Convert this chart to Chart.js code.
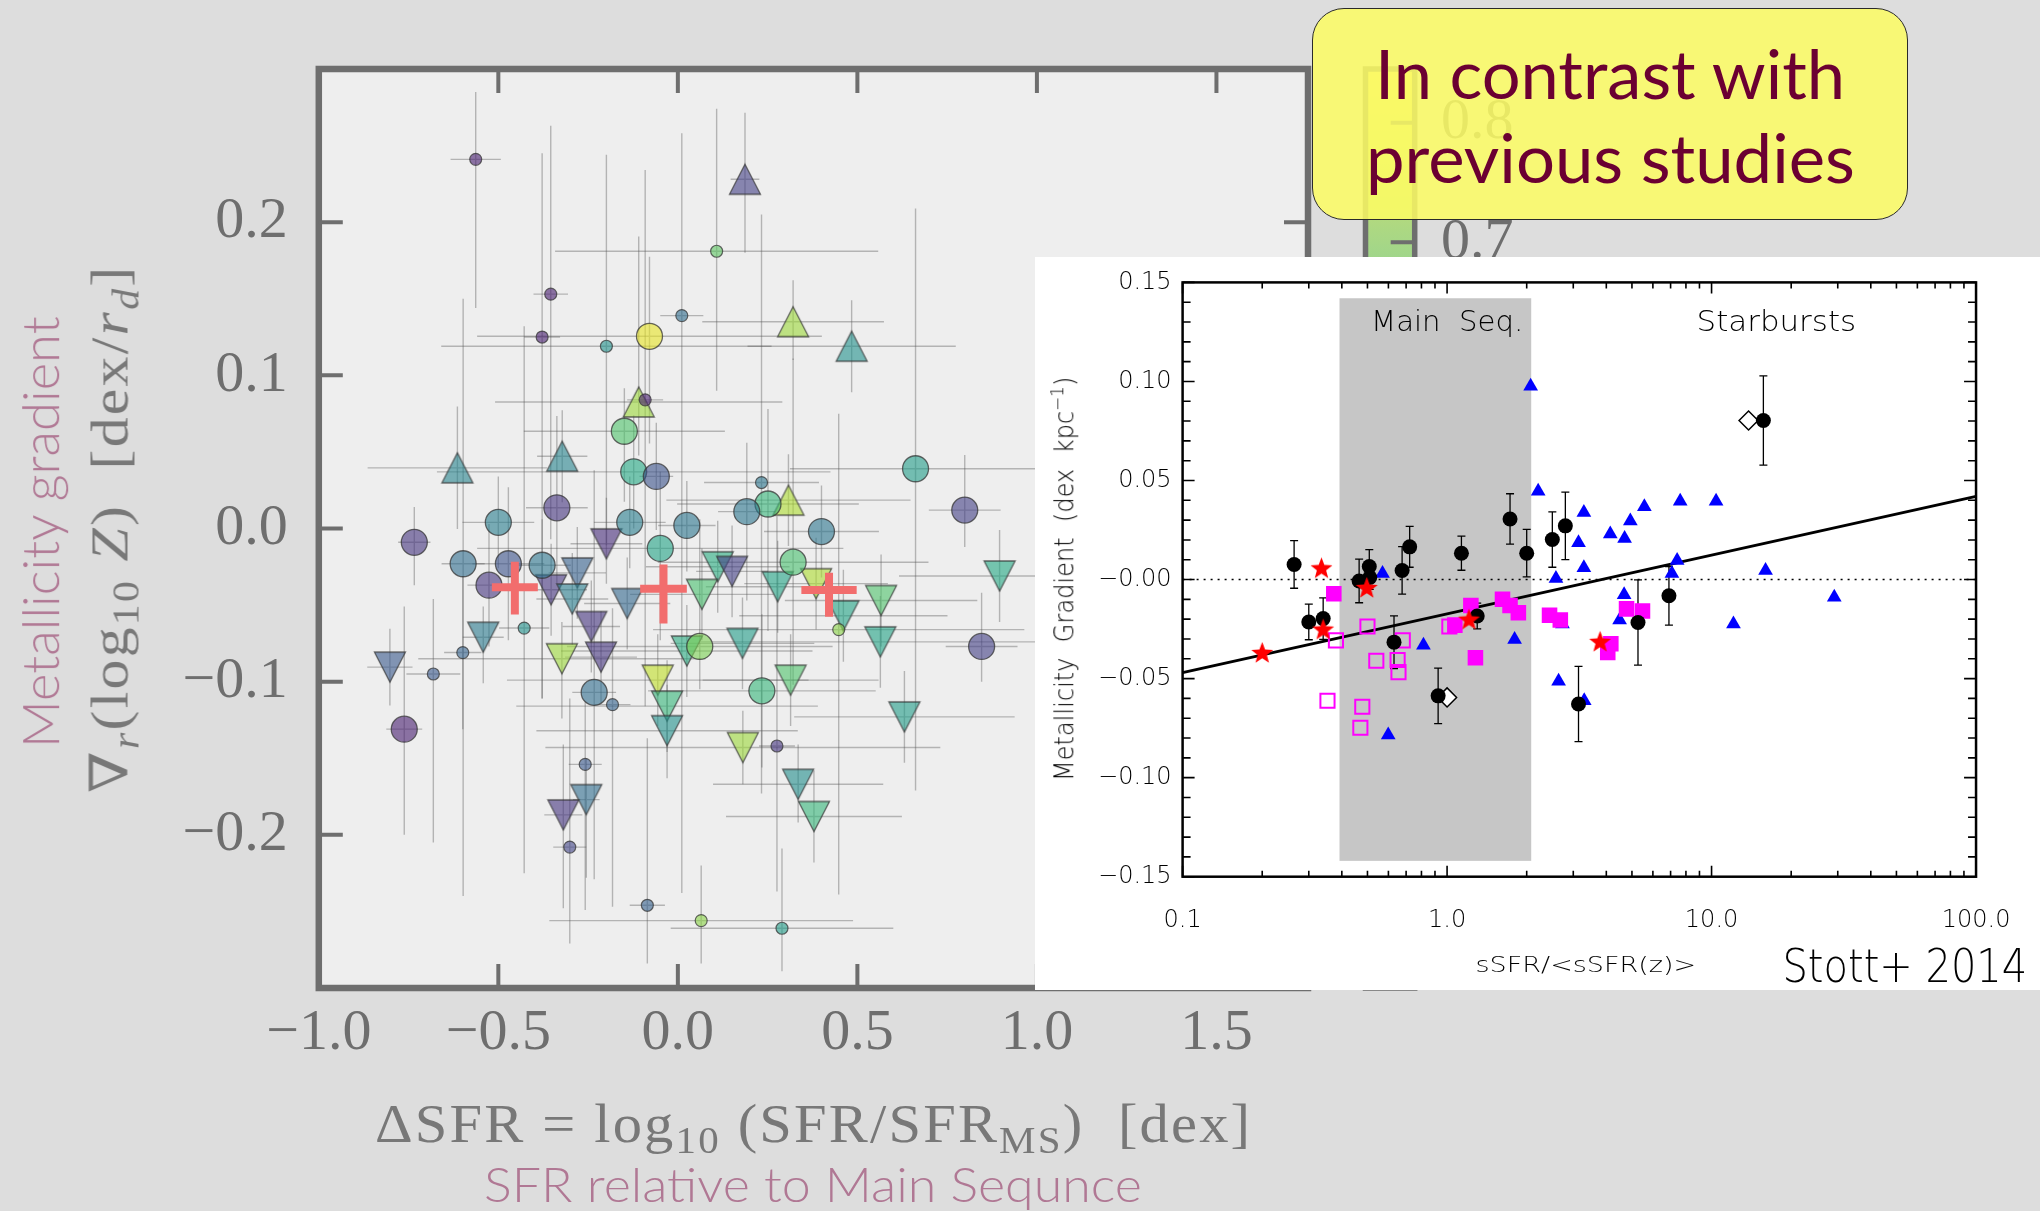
<!DOCTYPE html>
<html><head><meta charset="utf-8"><title>Metallicity gradient vs SFR offset</title>
<script src="https://cdn.jsdelivr.net/npm/chart.js@4.4.1/dist/chart.umd.min.js"></script>
<style>
html,body{margin:0;padding:0;background:#dddddd;}
body{position:relative;width:2040px;height:1211px;overflow:hidden;}
canvas{display:block;}
#mainCanvas{position:absolute;left:0;top:0;}
#insetBox{position:absolute;left:1035px;top:257px;width:1005px;height:733px;background:#ffffff;}
#insetCanvas{position:absolute;left:0;top:0;}
#callout{position:absolute;left:1312px;top:8px;width:596px;height:212px;box-sizing:border-box;border:1.5px solid #2a2a2a;border-radius:32px;background:rgba(253,253,100,0.86);}
.lbl{position:absolute;white-space:nowrap;line-height:1.2;transform-origin:50% 50%;}
.lbl sub{font-size:0.7em;vertical-align:-0.3em;line-height:0;}
.serif{font-family:"Liberation Serif","DejaVu Serif",serif;color:#787878;letter-spacing:2px;}
.lato{font-family:Lato,"Open Sans",sans-serif;}
.idl{font-family:"DejaVu Sans",sans-serif;font-weight:200;color:#000;}
</style></head>
<body>
<canvas id="mainCanvas" width="2040" height="1211"></canvas>
<div id="insetBox"><canvas id="insetCanvas" width="1005" height="733"></canvas></div>
<div id="callout"></div>

<span class="lbl lato" data-cx="39" data-cy="532" data-w="432" data-rot="-90" style="font-size:52px;font-weight:300;color:#b07894">Metallicity gradient</span>
<span class="lbl serif" data-cx="110" data-cy="529" data-w="529" data-rot="-90" style="font-size:53px">∇<sub><i>r</i></sub>(log<sub>10</sub> <i>Z</i>) &nbsp;[dex/<i>r</i><sub><i>d</i></sub>]</span>
<span class="lbl serif" data-cx="813" data-cy="1124" data-w="877" style="font-size:54px">ΔSFR = log<sub>10</sub> (SFR/SFR<sub>MS</sub>) &nbsp;[dex]</span>
<span class="lbl lato" data-cx="813" data-cy="1184" data-w="658" style="font-size:48px;font-weight:300;color:#b07894">SFR relative to Main Sequnce</span>

<span class="lbl idl" data-cx="1063" data-cy="579" data-w="404" data-rot="-90" style="font-size:26px">Metallicity&nbsp; Gradient&nbsp; (dex&nbsp; kpc<sup style="font-size:0.7em">−1</sup>)</span>
<span class="lbl idl" data-cx="1447" data-cy="322" data-w="152" style="font-size:28px">Main&nbsp; Seq.</span>
<span class="lbl idl" data-cx="1776" data-cy="322" data-w="160" style="font-size:28px">Starbursts</span>
<span class="lbl idl" data-cx="1586" data-cy="965" data-w="221" style="font-size:22px">sSFR/&lt;sSFR(z)&gt;</span>
<span class="lbl idl" data-cx="1905" data-cy="966" data-w="245" style="font-size:46px">Stott+ 2014</span>

<span class="lbl lato" data-cx="1610" data-cy="73" data-w="470" style="font-size:68px;color:#6b0032">In contrast with</span>
<span class="lbl lato" data-cx="1610" data-cy="157" data-w="489" style="font-size:68px;color:#6b0032">previous studies</span>

<script>
// ================= MAIN PANEL DATA =================
// x: ΔSFR [dex], y: metallicity gradient [dex/r_d], c: colour-bar value
const xTickVals = [-1.0, -0.5, 0.0, 0.5, 1.0, 1.5];
const xTickLabels = ['−1.0', '−0.5', '0.0', '0.5', '1.0', '1.5'];
const yTickVals = [-0.2, -0.1, 0.0, 0.1, 0.2];
const yTickLabels = ['−0.2', '−0.1', '0.0', '0.1', '0.2'];
const cbTickVals = [0.1, 0.2, 0.3, 0.4, 0.5, 0.6, 0.7, 0.8];
const cbTickLabels = ['0.1', '0.2', '0.3', '0.4', '0.5', '0.6', '0.7', '0.8'];

// small circles
const smX    = [-0.563,-0.354,-0.378,-0.199,0.011,-0.091,0.108,0.233,-0.428,-0.599,-0.681,-0.182,-0.258,-0.301,-0.085,0.448,0.276,0.065,0.290];
const smY    = [0.241,0.153,0.125,0.119,0.139,0.084,0.181,0.030,-0.065,-0.081,-0.095,-0.115,-0.154,-0.208,-0.246,-0.066,-0.142,-0.256,-0.261];
const smXerr = [0.07,0.048,0.05,0.46,0.06,0.05,0.45,0.16,0.07,0.052,0.075,0.05,0.046,0.046,0.049,0.517,0.05,0.423,0.31];
const smYup  = [0.044,0.11,0.12,0.125,0.119,0.15,0.093,0.175,0.197,0.05,0.049,0.063,0.041,0.097,0.109,0.141,0.15,0.036,0.052];
const smYdn  = [0.097,0.16,0.236,0.13,0.377,0.2,0.091,0.203,0.16,0.05,0.11,0.132,0.095,0.063,0.038,0.173,0.095,0.028,0.028];
const smC    = [0.14,0.14,0.14,0.46,0.35,0.14,0.65,0.37,0.46,0.32,0.29,0.32,0.29,0.23,0.31,0.71,0.19,0.71,0.50];

// large circles
const bgX    = [-0.079,-0.149,-0.123,-0.060,-0.337,-0.500,-0.134,0.662,0.251,0.192,0.799,0.400,0.025,-0.734,-0.598,-0.472,-0.378,-0.526,-0.049,-0.762,-0.233,0.321,0.846,0.061,0.234];
const bgY    = [0.1255,0.0635,0.037,0.034,0.0135,0.004,0.004,0.039,0.016,0.011,0.012,-0.002,0.002,-0.009,-0.023,-0.023,-0.024,-0.037,-0.013,-0.131,-0.107,-0.022,-0.077,-0.077,-0.106];
const bgXerr = [0.48,0.28,0.548,0.047,0.086,0.1,0.1,0.35,0.253,0.08,0.1,0.16,0.08,0.045,0.06,0.1,0.08,0.06,0.51,0.05,0.061,0.377,0.1,0.37,0.317];
const bgYup  = [0.052,0.028,0.037,0.035,0.06,0.03,0.03,0.17,0.062,0.045,0.036,0.03,0.029,0.023,0.173,0.05,0.03,0.04,0.05,0.08,0.145,0.133,0.035,0.083,0.05];
const bgYdn  = [0.07,0.046,0.037,0.035,0.05,0.03,0.03,0.21,0.083,0.058,0.024,0.03,0.03,0.028,0.217,0.05,0.087,0.04,0.06,0.069,0.122,0.08,0.023,0.028,0.05];
const bgC    = [0.82,0.63,0.54,0.27,0.19,0.40,0.40,0.50,0.58,0.37,0.22,0.37,0.37,0.19,0.35,0.27,0.37,0.19,0.52,0.14,0.35,0.62,0.22,0.69,0.58];

// upward triangles
const upX    = [-0.109,-0.614,-0.322,0.187,0.321,0.484,0.308];
const upY    = [0.0826,0.0396,0.0472,0.228,0.135,0.119,0.0185];
const upXerr = [0.4,0.25,0.07,0.04,0.253,0.29,0.34];
const upYup  = [0.108,0.04,0.03,0.0435,0.027,0.03,0.03];
const upYdn  = [0.035,0.04,0.03,0.048,0.025,0.03,0.03];
const upC    = [0.73,0.42,0.42,0.22,0.73,0.46,0.75];

// downward triangles
const dnX    = [-0.199,-0.280,-0.353,-0.294,-0.141,-0.241,-0.542,-0.802,-0.323,-0.214,-0.255,-0.319,-0.056,-0.030,-0.030,0.111,0.151,0.067,0.278,0.385,0.461,0.566,0.564,0.896,0.025,0.180,0.314,0.631,0.181,0.335,0.379];
const dnY    = [-0.010,-0.029,-0.040,-0.046,-0.049,-0.064,-0.071,-0.0905,-0.085,-0.084,-0.177,-0.187,-0.099,-0.116,-0.132,-0.025,-0.028,-0.043,-0.038,-0.036,-0.057,-0.047,-0.074,-0.031,-0.080,-0.075,-0.099,-0.123,-0.143,-0.167,-0.188];
const dnXerr = [0.1,0.08,0.1,0.1,0.12,0.08,0.057,0.063,0.4,0.1,0.037,0.053,0.42,0.42,0.364,0.2,0.1,0.2,0.2,0.2,0.29,0.268,0.5,0.28,0.35,0.2,0.245,0.307,0.55,0.237,0.245];
const dnYup  = [0.03,0.03,0.03,0.03,0.03,0.03,0.02,0.025,0.024,0.03,0.027,0.046,0.03,0.03,0.03,0.03,0.03,0.03,0.03,0.03,0.03,0.03,0.03,0.03,0.03,0.03,0.03,0.03,0.024,0.026,0.03];
const dnYdn  = [0.026,0.03,0.03,0.03,0.03,0.03,0.03,0.025,0.039,0.03,0.051,0.061,0.03,0.03,0.031,0.03,0.03,0.03,0.03,0.03,0.03,0.03,0.03,0.03,0.03,0.03,0.03,0.03,0.024,0.025,0.03];
const dnC    = [0.17,0.31,0.19,0.40,0.33,0.19,0.39,0.29,0.73,0.19,0.35,0.19,0.77,0.58,0.46,0.55,0.22,0.62,0.52,0.75,0.52,0.63,0.52,0.54,0.55,0.50,0.63,0.50,0.73,0.45,0.58];

// binned medians (red crosses)
const crX    = [-0.454,-0.040,0.421];
const crY    = [-0.0383,-0.0394,-0.0402];
const crXerr = [0.064,0.065,0.077];
const crYup  = [0.0166,0.0159,0.0113];
const crYdn  = [0.0178,0.0226,0.0174];

// ================= INSET (Stott+ 2014) DATA =================
const insetXTickVals = [0.1, 1, 10, 100];
const insetXTickLabels = ['0.1', '1.0', '10.0', '100.0'];
const insetYTickVals = [0.15, 0.10, 0.05, 0.0, -0.05, -0.10, -0.15];
const insetYTickLabels = ['0.15', '0.10', '0.05', '−0.00', '−0.05', '−0.10', '−0.15'];

const blackX   = [0.264,0.30,0.34,0.465,0.508,0.51,0.63,0.676,0.722,0.925,1.133,1.30,1.73,2.0,2.5,2.8,3.14,5.27,6.9,15.7];
const blackY   = [0.0076,-0.0214,-0.0197,-0.0007,0.0066,0.0010,-0.0316,0.0046,0.0165,-0.0587,0.0133,-0.0184,0.0306,0.0133,0.0202,0.0271,-0.0628,-0.0217,-0.0082,0.0803];
const blackErr = [0.012,0.009,0.0105,0.011,0.0085,0.006,0.0133,0.012,0.0103,0.014,0.0086,0.0065,0.0127,0.012,0.014,0.017,0.019,0.0215,0.0148,0.0225];
const dmX = [13.8, 1.0];
const dmY = [0.0803, -0.0595];
const stX = [0.2,0.335,0.34,0.497,1.21,3.79];
const stY = [-0.0368,0.0059,-0.025,-0.0040,-0.020,-0.0312];
const fsX = [0.373,1.07,1.23,1.28,1.62,1.73,1.86,2.44,2.68,4.05,4.16,4.77,5.48];
const fsY = [-0.0072,-0.023,-0.0131,-0.0395,-0.0099,-0.0131,-0.0168,-0.018,-0.0204,-0.0368,-0.0324,-0.0148,-0.0159];
const osX = [0.353,0.38,0.47,0.478,0.50,0.54,0.65,0.655,0.68,1.02];
const osY = [-0.0612,-0.0307,-0.0748,-0.0642,-0.0237,-0.041,-0.0406,-0.0467,-0.0307,-0.0237];
const btX = [0.57,0.599,0.814,1.80,2.07,2.21,2.58,2.64,2.73,3.14,3.29,3.29,3.30,4.14,4.49,4.67,4.69,4.93,5.57,7.08,7.41,7.61,10.4,12.1,16.0,29.1];
const btY = [0.003,-0.0785,-0.0332,-0.0303,0.0976,0.0446,0.0005,-0.0513,-0.0225,0.0186,0.0338,0.0059,-0.0612,0.023,-0.0204,-0.0077,0.0207,0.0296,0.0367,0.003,0.0096,0.0395,0.0395,-0.0225,0.0046,-0.0089];
const fitX = [0.1, 100];
const fitY = [-0.047, 0.042];
const zeroX = [0.1, 100];
const zeroY = [0, 0];
const msX = [0.392, 2.08];   // Main Sequence band
const msY = [-0.142, 0.142];

// ================= helpers =================
const CB_MIN = 0.076, CB_MAX = 0.845;
const VIRIDIS = [[68,1,84],[72,36,117],[65,68,135],[53,95,141],[42,120,142],[33,145,140],[34,168,132],[68,191,112],[122,209,81],[189,223,38],[253,231,37]];
function viridis(t){ t=Math.max(0,Math.min(1,t)); const f=t*10; const i=Math.min(9,Math.floor(f)); const u=f-i; const a=VIRIDIS[i], b=VIRIDIS[i+1]; return a.map((av,k)=>av+(b[k]-av)*u); }
function cmap(v,alpha){ const c=viridis((v-CB_MIN)/(CB_MAX-CB_MIN)); return 'rgba('+c.map(q=>Math.round(q)).join(',')+','+alpha+')'; }
function blendT(t,alpha,bg){ const c=viridis(t); return 'rgb('+c.map(q=>Math.round(alpha*q+(1-alpha)*bg)).join(',')+')'; }
function pts(xs,ys){ return xs.map((x,i)=>({x:x,y:ys[i]})); }
const EDGE = 'rgba(55,55,55,0.75)';
const ALPHA = 0.6;
const SERIF = '"Liberation Serif", "DejaVu Serif", serif';
const GRAY = '#6e6e6e';

function mkTri(up, fill){
  const W=31, H=30, p=2; const c=document.createElement('canvas'); c.width=W+2*p+1; c.height=H+2*p;
  const g=c.getContext('2d'); g.beginPath();
  const cx=c.width/2;
  if(up){ g.moveTo(cx,p); g.lineTo(cx+W/2,p+H); g.lineTo(cx-W/2,p+H); }
  else { g.moveTo(cx-W/2,p); g.lineTo(cx+W/2,p); g.lineTo(cx,p+H); }
  g.closePath(); g.fillStyle=fill; g.fill(); g.lineWidth=1.3; g.strokeStyle=EDGE; g.stroke();
  return c;
}
function mkStar(R, color){
  const s=Math.ceil(2*R+4); const c=document.createElement('canvas'); c.width=s; c.height=s;
  const g=c.getContext('2d'); g.translate(s/2,s/2+1); g.beginPath();
  for(let k=0;k<10;k++){ const r=(k%2)?R*0.42:R; const a=-Math.PI/2+k*Math.PI/5; g.lineTo(r*Math.cos(a),r*Math.sin(a)); }
  g.closePath(); g.fillStyle=color; g.fill(); return c;
}

// ================= main chart =================
const mainDeco = {
  id:'mainDeco',
  beforeDraw(chart){
    const {ctx, chartArea:a} = chart;
    ctx.save(); ctx.fillStyle='#eeeeee'; ctx.fillRect(a.left,a.top,a.right-a.left,a.bottom-a.top); ctx.restore();
  },
  beforeDatasetsDraw(chart){
    const {ctx, chartArea:a, scales:{x,y}} = chart;
    ctx.save(); ctx.beginPath(); ctx.rect(a.left,a.top,a.right-a.left,a.bottom-a.top); ctx.clip();
    ctx.strokeStyle='rgba(85,85,85,0.38)'; ctx.lineWidth=1.4;
    chart.data.datasets.forEach(ds=>{
      if(!ds.errX || ds.isCross) return;
      ds.data.forEach((p,i)=>{
        const px=x.getPixelForValue(p.x), py=y.getPixelForValue(p.y);
        ctx.beginPath();
        ctx.moveTo(x.getPixelForValue(p.x-ds.errX[i]),py); ctx.lineTo(x.getPixelForValue(p.x+ds.errX[i]),py);
        ctx.moveTo(px,y.getPixelForValue(p.y+ds.errUp[i])); ctx.lineTo(px,y.getPixelForValue(p.y-ds.errDn[i]));
        ctx.stroke();
      });
    });
    ctx.restore();
  },
  afterDatasetsDraw(chart){
    const {ctx, chartArea:a, scales:{x,y,cb}} = chart;
    ctx.save();
    const cr = chart.data.datasets.find(d=>d.isCross);
    ctx.strokeStyle='#f26d6d'; ctx.lineWidth=8; ctx.lineCap='butt';
    cr.data.forEach((p,i)=>{
      const px=x.getPixelForValue(p.x), py=y.getPixelForValue(p.y);
      ctx.beginPath();
      ctx.moveTo(x.getPixelForValue(p.x-cr.errX[i]),py); ctx.lineTo(x.getPixelForValue(p.x+cr.errX[i]),py);
      ctx.moveTo(px,y.getPixelForValue(p.y+cr.errUp[i])); ctx.lineTo(px,y.getPixelForValue(p.y-cr.errDn[i]));
      ctx.stroke();
    });
    ctx.strokeStyle=GRAY; ctx.lineWidth=6.5;
    ctx.strokeRect(a.left,a.top,a.right-a.left,a.bottom-a.top);
    ctx.lineWidth=4; ctx.beginPath();
    xTickVals.forEach(v=>{ const px=x.getPixelForValue(v); ctx.moveTo(px,a.top); ctx.lineTo(px,a.top+24); ctx.moveTo(px,a.bottom); ctx.lineTo(px,a.bottom-24); });
    yTickVals.forEach(v=>{ const py=y.getPixelForValue(v); ctx.moveTo(a.left,py); ctx.lineTo(a.left+24,py); ctx.moveTo(a.right,py); ctx.lineTo(a.right-24,py); });
    ctx.stroke();
    // colour bar
    const L=1365.5, R=1414.7;
    const yTop=cb.getPixelForValue(CB_MAX), yBot=cb.getPixelForValue(CB_MIN);
    const grad=ctx.createLinearGradient(0,yBot,0,yTop);
    for(let k=0;k<=10;k++){ grad.addColorStop(k/10, blendT(k/10,0.6,221)); }
    ctx.fillStyle=grad; ctx.fillRect(L,yTop,R-L,yBot-yTop);
    ctx.strokeStyle=GRAY; ctx.lineWidth=5.5; ctx.strokeRect(L,yTop,R-L,yBot-yTop);
    ctx.lineWidth=4; ctx.beginPath();
    cbTickVals.forEach(v=>{ const py=cb.getPixelForValue(v); ctx.moveTo(R,py); ctx.lineTo(R-24,py); });
    ctx.stroke();
    ctx.fillStyle=GRAY; ctx.font='58px '+SERIF; ctx.textAlign='left'; ctx.textBaseline='middle';
    cbTickVals.forEach((v,i)=>{ ctx.fillText(cbTickLabels[i], 1441, cb.getPixelForValue(v)); });
    ctx.restore();
  }
};

new Chart(document.getElementById('mainCanvas'), {
  type:'scatter',
  data:{datasets:[
    {label:'Binned medians', data:pts(crX,crY), pointRadius:0, isCross:true, errX:crXerr, errUp:crYup, errDn:crYdn},
    {label:'Small circles', data:pts(smX,smY), pointStyle:'circle', pointRadius:6, backgroundColor:smC.map(c=>cmap(c,ALPHA)), borderColor:EDGE, borderWidth:1.2, errX:smXerr, errUp:smYup, errDn:smYdn},
    {label:'Large circles', data:pts(bgX,bgY), pointStyle:'circle', pointRadius:13, backgroundColor:bgC.map(c=>cmap(c,ALPHA)), borderColor:EDGE, borderWidth:1.3, errX:bgXerr, errUp:bgYup, errDn:bgYdn},
    {label:'Up triangles', data:pts(upX,upY), pointStyle:upC.map(c=>mkTri(true,cmap(c,ALPHA))), pointRadius:15, errX:upXerr, errUp:upYup, errDn:upYdn},
    {label:'Down triangles', data:pts(dnX,dnY), pointStyle:dnC.map(c=>mkTri(false,cmap(c,ALPHA))), pointRadius:15, errX:dnXerr, errUp:dnYup, errDn:dnYdn}
  ]},
  options:{
    responsive:false, animation:false, events:[], devicePixelRatio:1,
    layout:{padding:{left:0, top:69, right:732, bottom:0}},
    plugins:{legend:{display:false}, tooltip:{enabled:false}},
    scales:{
      x:{type:'linear', position:'bottom', min:-1.0, max:1.755,
        grid:{display:false, drawTicks:false}, border:{display:false},
        ticks:{autoSkip:false, maxRotation:0, minRotation:0, padding:11, color:GRAY, font:{family:SERIF, size:58}, callback:(v,i)=>xTickLabels[i]},
        afterBuildTicks:s=>{ s.ticks = xTickVals.map(v=>({value:v})); },
        afterFit:s=>{ s.height = 223; }},
      y:{type:'linear', position:'left', min:-0.3, max:0.3,
        grid:{display:false, drawTicks:false}, border:{display:false},
        ticks:{autoSkip:false, padding:31, color:GRAY, font:{family:SERIF, size:58}, callback:(v,i)=>yTickLabels[i]},
        afterBuildTicks:s=>{ s.ticks = yTickVals.map(v=>({value:v})); },
        afterFit:s=>{ s.width = 318.8; }},
      cb:{type:'linear', position:'right', display:false, min:CB_MIN, max:CB_MAX}
    }
  },
  plugins:[mainDeco]
});

// ================= inset chart =================
const IFONT = {family:'"DejaVu Sans", sans-serif', size:24, weight:'200'};
const insetDeco = {
  id:'insetDeco',
  beforeDatasetsDraw(chart){
    const {ctx, scales:{x,y}} = chart;
    ctx.save();
    const x0=x.getPixelForValue(msX[0]), x1=x.getPixelForValue(msX[1]);
    const y0=y.getPixelForValue(msY[1]), y1=y.getPixelForValue(msY[0]);
    ctx.fillStyle='#c6c6c6'; ctx.fillRect(x0,y0,x1-x0,y1-y0);
    ctx.strokeStyle='#000'; ctx.lineWidth=1.3;
    blackX.forEach((bx,i)=>{
      const px=x.getPixelForValue(bx), t=y.getPixelForValue(blackY[i]+blackErr[i]), b=y.getPixelForValue(blackY[i]-blackErr[i]);
      ctx.beginPath(); ctx.moveTo(px,t); ctx.lineTo(px,b);
      ctx.moveTo(px-4,t); ctx.lineTo(px+4,t); ctx.moveTo(px-4,b); ctx.lineTo(px+4,b); ctx.stroke();
    });
    ctx.restore();
  },
  afterDraw(chart){
    const {ctx, chartArea:a, scales:{x,y}} = chart;
    ctx.save();
    ctx.strokeStyle='#000'; ctx.lineWidth=2.5;
    ctx.strokeRect(a.left,a.top,a.right-a.left,a.bottom-a.top);
    ctx.lineWidth=1.6; ctx.beginPath();
    for(let k=-15;k<=15;k++){
      const py=y.getPixelForValue(k/100); const len=(k%5===0)?12:8;
      ctx.moveTo(a.left,py); ctx.lineTo(a.left+len,py); ctx.moveTo(a.right,py); ctx.lineTo(a.right-len,py);
    }
    for(let e=-1;e<=2;e++){
      for(let m=1;m<=9;m++){
        if(e===2 && m>1) break;
        const px=x.getPixelForValue(m*Math.pow(10,e)); const len=(m===1)?11:6;
        ctx.moveTo(px,a.top); ctx.lineTo(px,a.top+len); ctx.moveTo(px,a.bottom); ctx.lineTo(px,a.bottom-len);
      }
    }
    ctx.stroke();
    ctx.restore();
  }
};

new Chart(document.getElementById('insetCanvas'), {
  type:'scatter',
  data:{datasets:[
    {label:'Red stars', data:pts(stX,stY), pointStyle:mkStar(11.5,'#ff0000'), pointRadius:12},
    {label:'Black circles', data:pts(blackX,blackY), pointStyle:'circle', pointRadius:7.5, backgroundColor:'#000', borderColor:'#000', borderWidth:0},
    {label:'Open diamonds', data:pts(dmX,dmY), pointStyle:'rectRot', pointRadius:9.5, backgroundColor:'#ffffff', borderColor:'#000', borderWidth:1.5},
    {label:'Open squares', data:pts(osX,osY), pointStyle:'rect', pointRadius:10, backgroundColor:'rgba(0,0,0,0)', borderColor:'#ff00ff', borderWidth:2},
    {label:'Filled squares', data:pts(fsX,fsY), pointStyle:'rect', pointRadius:11, backgroundColor:'#ff00ff', borderColor:'#ff00ff', borderWidth:0},
    {label:'Blue triangles', data:pts(btX,btY), pointStyle:'triangle', pointRadius:8.5, backgroundColor:'#0000ff', borderColor:'#0000ff', borderWidth:0},
    {type:'line', label:'Fit', data:pts(fitX,fitY), borderColor:'#000', borderWidth:3, pointRadius:0, fill:false},
    {type:'line', label:'Zero', data:pts(zeroX,zeroY), borderColor:'#000', borderWidth:1.4, borderDash:[2,5], pointRadius:0, fill:false}
  ]},
  options:{
    responsive:false, animation:false, events:[], devicePixelRatio:1,
    layout:{padding:{left:0, top:11.8, right:47.4, bottom:0}},
    plugins:{legend:{display:false}, tooltip:{enabled:false}},
    scales:{
      x:{type:'logarithmic', position:'bottom', min:0.1, max:100,
        grid:{display:false, drawTicks:false}, border:{display:false},
        ticks:{autoSkip:false, maxRotation:0, minRotation:0, padding:29.6, color:'#000', font:IFONT, callback:(v,i)=>insetXTickLabels[i]},
        afterBuildTicks:s=>{ s.ticks = insetXTickVals.map(v=>({value:v})); },
        afterFit:s=>{ s.height = 113.3; }},
      y:{type:'linear', position:'left', min:-0.15, max:0.15,
        grid:{display:false, drawTicks:false}, border:{display:false},
        ticks:{autoSkip:false, padding:11, color:'#000', font:IFONT, callback:(v,i)=>insetYTickLabels[i]},
        afterBuildTicks:s=>{ s.ticks = insetYTickVals.map(v=>({value:v})); },
        afterFit:s=>{ s.width = 147.6; }}
    }
  },
  plugins:[insetDeco]
});

// ================= text placement =================
function placeLabels(){
  document.querySelectorAll('.lbl').forEach(el=>{
    el.style.transform='none';
    const w=el.offsetWidth, h=el.offsetHeight;
    const cx=+el.dataset.cx, cy=+el.dataset.cy, tw=+el.dataset.w, rot=+(el.dataset.rot||0);
    const s = tw ? tw/w : 1;
    el.style.left=(cx-w/2)+'px'; el.style.top=(cy-h/2)+'px';
    el.style.transform='rotate('+rot+'deg) scaleX('+s+')';
  });
}
placeLabels();
if(document.fonts && document.fonts.ready){ document.fonts.ready.then(placeLabels); }
</script>
</body></html>
